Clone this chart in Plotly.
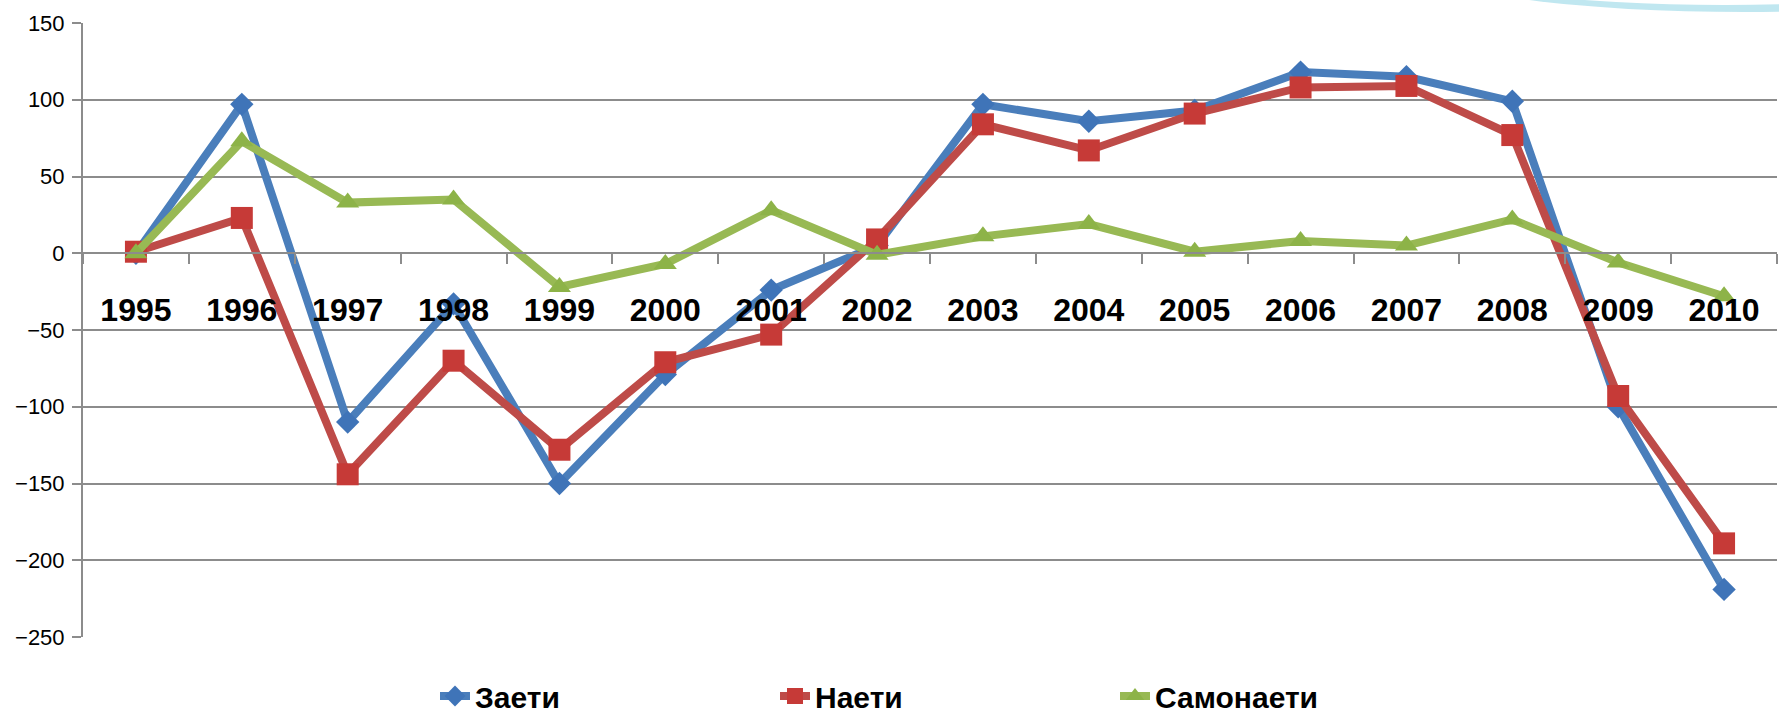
import plotly.graph_objects as go

years = ["1995", "1996", "1997", "1998", "1999", "2000", "2001", "2002",
         "2003", "2004", "2005", "2006", "2007", "2008", "2009", "2010"]
zaeti = [0, 97, -110, -33, -150, -79, -24, 5, 97, 86, 93, 118, 115, 99, -100, -219]
naeti = [1, 23, -144, -70, -128, -71, -53, 9, 84, 67, 91, 108, 109, 77, -93, -189]
samonaeti = [0, 73, 33, 35, -22, -7, 28, -1, 11, 19, 1, 8, 5, 22, -6, -28]

series = [
    ("Заети", zaeti, "#4A7EBB", "#3F74B8", "diamond", 18),
    ("Наети", naeti, "#BE4B48", "#C63A37", "square", 22),
    ("Самонаети", samonaeti, "#98B954", "#8DB348", "triangle-up", 20),
]

fig = go.Figure()
for name, vals, lc, mc, sym, sz in series:
    fig.add_trace(go.Scatter(
        x=years, y=vals, name=name, mode="lines+markers",
        line=dict(color=lc, width=8),
        marker=dict(symbol=sym, size=sz, color=mc, line=dict(width=0)),
    ))

W, H = 1779, 714
L, R, T, B = 83, 2, 23, 77
pw, ph = W - L - R, H - T - B

def px_x(p):
    return (p - L) / pw

def px_y(p):
    return (H - B - p) / ph

fig.add_shape(type="circle", xref="paper", yref="paper",
              x0=px_x(1440), x1=px_x(2050), y0=px_y(12), y1=px_y(-70),
              fillcolor="rgba(150,215,230,0.6)", line=dict(width=0), layer="below")
fig.add_shape(type="circle", xref="paper", yref="paper",
              x0=px_x(1440), x1=px_x(2010), y0=px_y(5), y1=px_y(-72),
              fillcolor="rgba(255,255,255,1)", line=dict(width=0), layer="below")

fig.update_layout(
    width=W, height=H,
    margin=dict(l=L, r=R, t=T, b=B, pad=0, autoexpand=False),
    paper_bgcolor="white", plot_bgcolor="white",
    font=dict(family="Liberation Sans, Arial, sans-serif", color="#000000"),
    showlegend=True,
    legend=dict(
        orientation="h", x=px_x(435), xanchor="left", y=px_y(696), yanchor="middle",
        font=dict(size=30, family="Liberation Sans, Arial, sans-serif", weight="bold"),
        entrywidth=295, entrywidthmode="pixels", itemwidth=30,
        bgcolor="rgba(0,0,0,0)", tracegroupgap=0,
    ),
    xaxis=dict(
        type="category", range=[-0.5, 15.5],
        anchor="free", position=0.625, automargin=False,
        showline=True, linecolor="#8C8C8C", linewidth=2,
        ticks="outside", tickson="boundaries", ticklen=10, tickwidth=2, tickcolor="#8C8C8C",
        showgrid=False, zeroline=False,
        tickfont=dict(size=32, family="Liberation Sans, Arial, sans-serif", weight="bold", color="#000"),
        ticklabelstandoff=28,
    ),
    yaxis=dict(
        range=[-250, 150], dtick=50, tick0=0, automargin=False,
        showline=True, linecolor="#8C8C8C", linewidth=2,
        ticks="outside", ticklen=9, tickwidth=2, tickcolor="#8C8C8C",
        showgrid=True, gridcolor="#8C8C8C", gridwidth=2,
        zeroline=False,
        tickfont=dict(size=22, family="Liberation Sans, Arial, sans-serif", color="#000"),
        ticklabelstandoff=3,
    ),
)

fig.write_html("out.html", config={"displayModeBar": False},
               post_script="document.body.style.margin='0px';document.body.style.overflow='hidden';")
